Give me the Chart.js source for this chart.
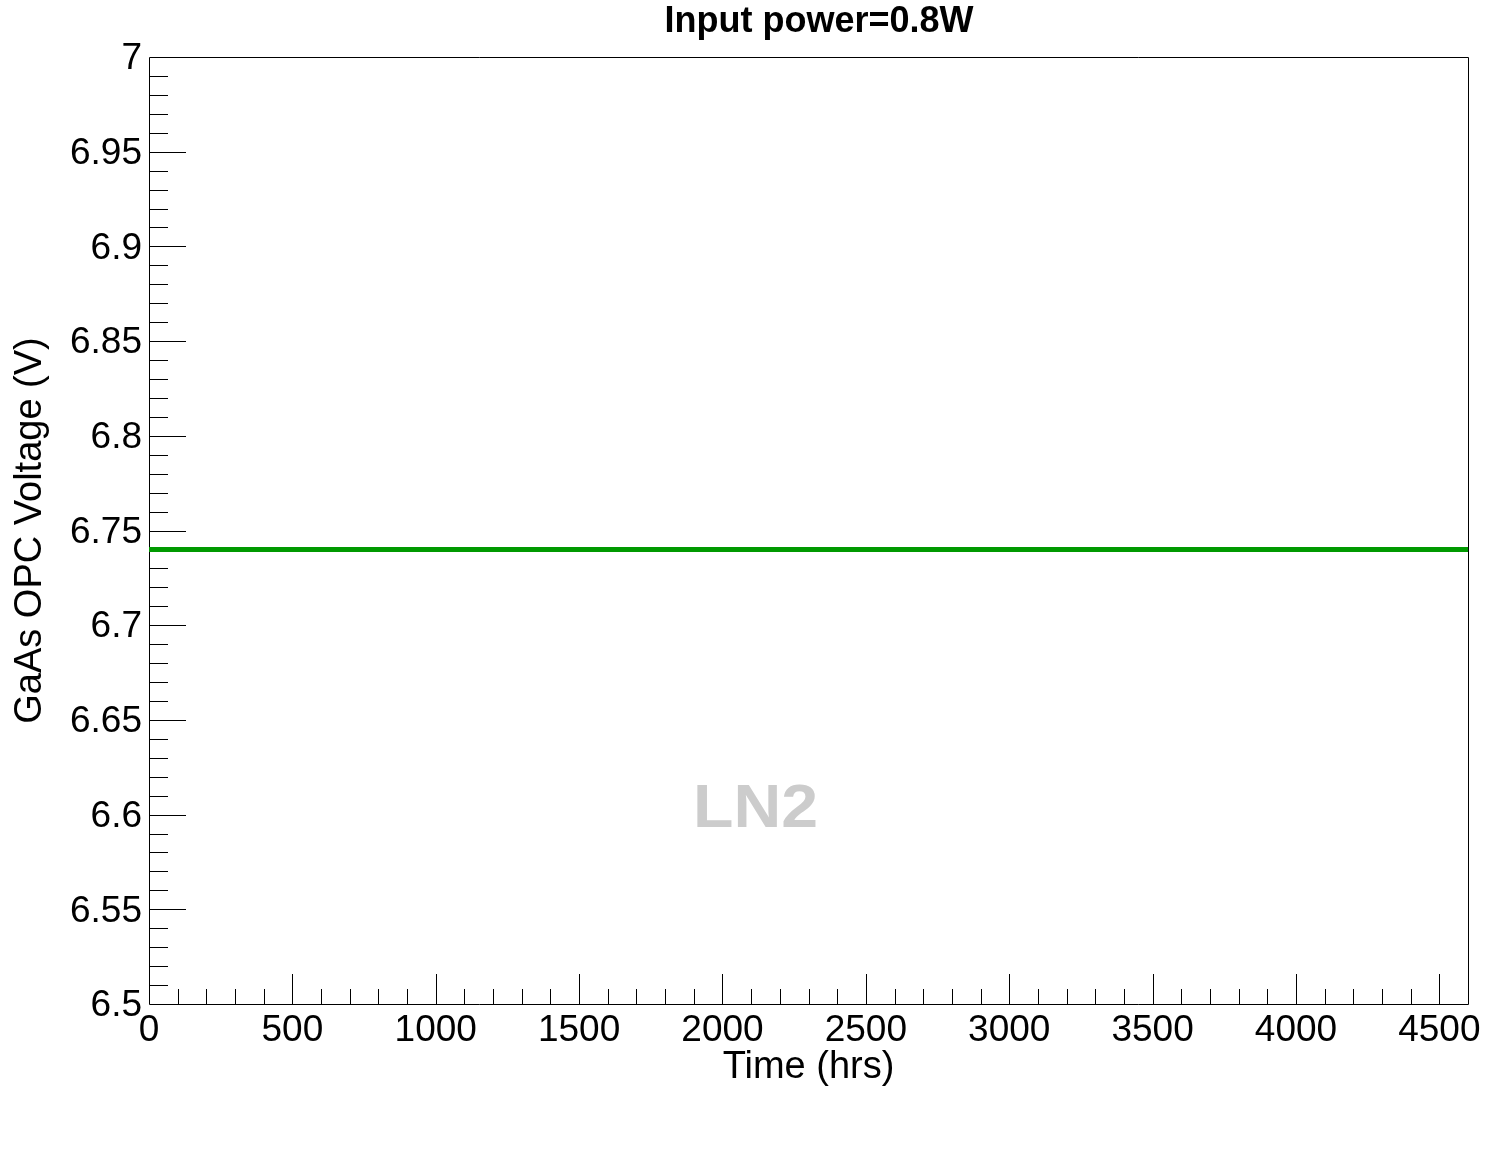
<!DOCTYPE html>
<html>
<head>
<meta charset="utf-8">
<title>GaAs OPC Voltage</title>
<script src="https://cdn.jsdelivr.net/npm/chart.js@4.4.1/dist/chart.umd.min.js"></script>
<style>
    html, body { margin: 0; padding: 0; background: #ffffff; }
    canvas { display: block; }
</style>
</head>
<body>
<canvas id="opcChart" width="1498" height="1155"></canvas>
<script>
// Data
const timeHrs = [0, 4600];
const opcVoltage = [6.74, 6.74];

const xTickValues = [0, 500, 1000, 1500, 2000, 2500, 3000, 3500, 4000, 4500];
const yTickValues = [6.5, 6.55, 6.6, 6.65, 6.7, 6.75, 6.8, 6.85, 6.9, 6.95, 7];
const yTickLabels = ['6.5', '6.55', '6.6', '6.65', '6.7', '6.75', '6.8', '6.85', '6.9', '6.95', '7'];

const plotTitle = 'Input power=0.8W';
const mediumLabel = 'LN2';
const FONT = '"Liberation Sans", Arial, Helvetica, sans-serif';

// ROOT style frame with inward ticks, plus title and LN2 label
const rootFrame = {
    id: 'rootFrame',
    beforeDatasetsDraw(chart) {
        const { ctx, chartArea: a, scales: { x, y } } = chart;
        ctx.save();
        ctx.strokeStyle = '#000';
        ctx.lineWidth = 1;
        ctx.beginPath();
        ctx.rect(a.left + 0.5, a.top + 0.5, a.right - a.left, a.bottom - a.top);

        // x ticks: major 500, minor 100
        for (let v = 100; v < x.max; v += 100) {
            const px = Math.round(x.getPixelForValue(v)) + 0.5;
            const len = v % 500 === 0 ? 30 : 15;
            ctx.moveTo(px, a.bottom);
            ctx.lineTo(px, a.bottom - len);
        }
        // y ticks: major 0.05, minor 0.01
        for (let i = 1; i < 50; i++) {
            const py = Math.round(y.getPixelForValue(y.min + i * 0.01)) + 0.5;
            const len = i % 5 === 0 ? 37 : 19;
            ctx.moveTo(a.left, py);
            ctx.lineTo(a.left + len, py);
        }
        ctx.stroke();
        ctx.restore();
    },
    afterDraw(chart) {
        const ctx = chart.ctx;
        ctx.save();
        ctx.fillStyle = '#000';
        ctx.font = 'bold 36px ' + FONT;
        ctx.textAlign = 'center';
        ctx.textBaseline = 'alphabetic';
        ctx.fillText(plotTitle, 819, 32);
        ctx.restore();

        ctx.save();
        ctx.fillStyle = '#cccccc';
        ctx.font = 'bold 62px ' + FONT;
        ctx.textAlign = 'left';
        ctx.textBaseline = 'alphabetic';
        const w = ctx.measureText(mediumLabel).width;
        ctx.translate(693, 827);
        ctx.scale(125 / w, 1);
        ctx.fillText(mediumLabel, 0, 0);
        ctx.restore();
    }
};

const ctx = document.getElementById('opcChart').getContext('2d');

new Chart(ctx, {
    type: 'scatter',
    data: {
        datasets: [{
            label: 'LN2',
            data: timeHrs.map((t, i) => ({ x: t, y: opcVoltage[i] })),
            showLine: true,
            borderColor: '#009900',
            borderWidth: 5,
            borderCapStyle: 'butt',
            pointRadius: 0,
            clip: false
        }]
    },
    options: {
        responsive: false,
        animation: false,
        events: [],
        layout: { padding: { top: 57, right: 30, left: 0, bottom: 0 } },
        plugins: {
            legend: { display: false },
            title: { display: false },
            tooltip: { enabled: false }
        },
        scales: {
            x: {
                type: 'linear',
                min: 0,
                max: 4600,
                afterFit: s => { s.height = 151; },
                afterBuildTicks: s => { s.ticks = xTickValues.map(v => ({ value: v })); },
                grid: { display: false, drawTicks: false },
                border: { display: false },
                ticks: {
                    color: '#000',
                    font: { family: FONT, size: 37 },
                    padding: 5,
                    maxRotation: 0,
                    autoSkip: false,
                    callback: v => String(v)
                },
                title: {
                    display: true,
                    text: 'Time (hrs)',
                    color: '#000',
                    font: { family: FONT, size: 38 },
                    padding: { top: 0, bottom: 65 }
                }
            },
            y: {
                type: 'linear',
                min: 6.5,
                max: 7,
                afterFit: s => { s.width = 149; },
                afterBuildTicks: s => { s.ticks = yTickValues.map(v => ({ value: v })); },
                grid: { display: false, drawTicks: false },
                border: { display: false },
                ticks: {
                    color: '#000',
                    font: { family: FONT, size: 37 },
                    padding: 7,
                    labelOffset: 2,
                    autoSkip: false,
                    callback: (v, i) => yTickLabels[i]
                },
                title: {
                    display: true,
                    text: 'GaAs OPC Voltage (V)',
                    color: '#000',
                    font: { family: FONT, size: 38 },
                    padding: { top: 8, bottom: 0 }
                }
            }
        }
    },
    plugins: [rootFrame]
});
</script>
</body>
</html>
